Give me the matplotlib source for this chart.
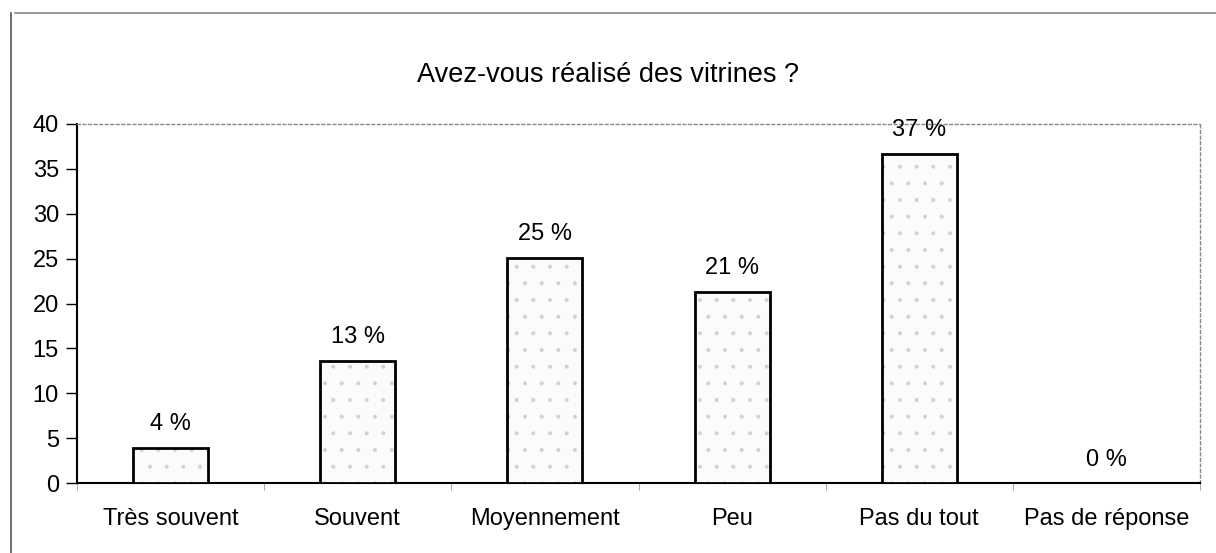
import matplotlib
matplotlib.use("Agg")
import matplotlib.pyplot as plt
from matplotlib.lines import Line2D

categories = ["Très souvent", "Souvent", "Moyennement", "Peu", "Pas du tout", "Pas de réponse"]
values = [3.9, 13.6, 25.1, 21.3, 36.7, 0.0]
labels = ["4 %", "13 %", "25 %", "21 %", "37 %", "0 %"]
yticks = [0, 5, 10, 15, 20, 25, 30, 35, 40]

plt.rcParams['font.family'] = ['Liberation Sans', 'DejaVu Sans']
plt.rcParams['hatch.linewidth'] = 0.4

fig = plt.figure(figsize=(12.16, 5.53), dpi=100)
ax = fig.add_axes([77/1216, 1-483/553, (1200-77)/1216, (483-124)/553])

x = list(range(len(categories)))
ax.bar(x, values, width=0.4, facecolor='#fbfbfb', edgecolor='#d0d0d0',
       linewidth=0, hatch='.', zorder=3)
ax.bar(x, values, width=0.4, fill=False, edgecolor='black', linewidth=2, zorder=4)
for xi, v, lab in zip(x, values, labels):
    ax.annotate(lab, (xi, v), xytext=(0, 9), textcoords='offset points',
                ha='center', va='bottom', fontsize=17)

ax.set_xlim(-0.5, len(categories) - 0.5)
ax.set_ylim(0, 40)
ax.set_yticks(yticks)
ax.set_yticklabels([str(t) for t in yticks], fontsize=17)
ax.set_xticks(x)
ax.set_xticklabels(categories, fontsize=17)
ax.tick_params(axis='x', length=0, pad=18)
ax.set_xticks([i + 0.5 for i in range(-1, len(categories))], minor=True)
ax.tick_params(axis='x', which='minor', length=5, color='#999999', direction='out')
ax.tick_params(axis='y', length=8, width=1, pad=5)

for s in ['left', 'bottom']:
    ax.spines[s].set_color('black')
    ax.spines[s].set_linewidth(1.5)
for s in ['top', 'right']:
    ax.spines[s].set_color('#888888')
    ax.spines[s].set_linewidth(1)
    ax.spines[s].set_linestyle((0, (2, 2)))

fig.text(0.5, 1-75/553, "Avez-vous réalisé des vitrines ?", ha='center', va='center', fontsize=19.5)

fig.add_artist(Line2D([11/1216, 11/1216], [0, 1-13/553], color='#555555', lw=1.2))
fig.add_artist(Line2D([15/1216, 1], [1-13/553, 1-13/553], color='#888888', lw=1.2))

fig.savefig("out.png", dpi=100)
